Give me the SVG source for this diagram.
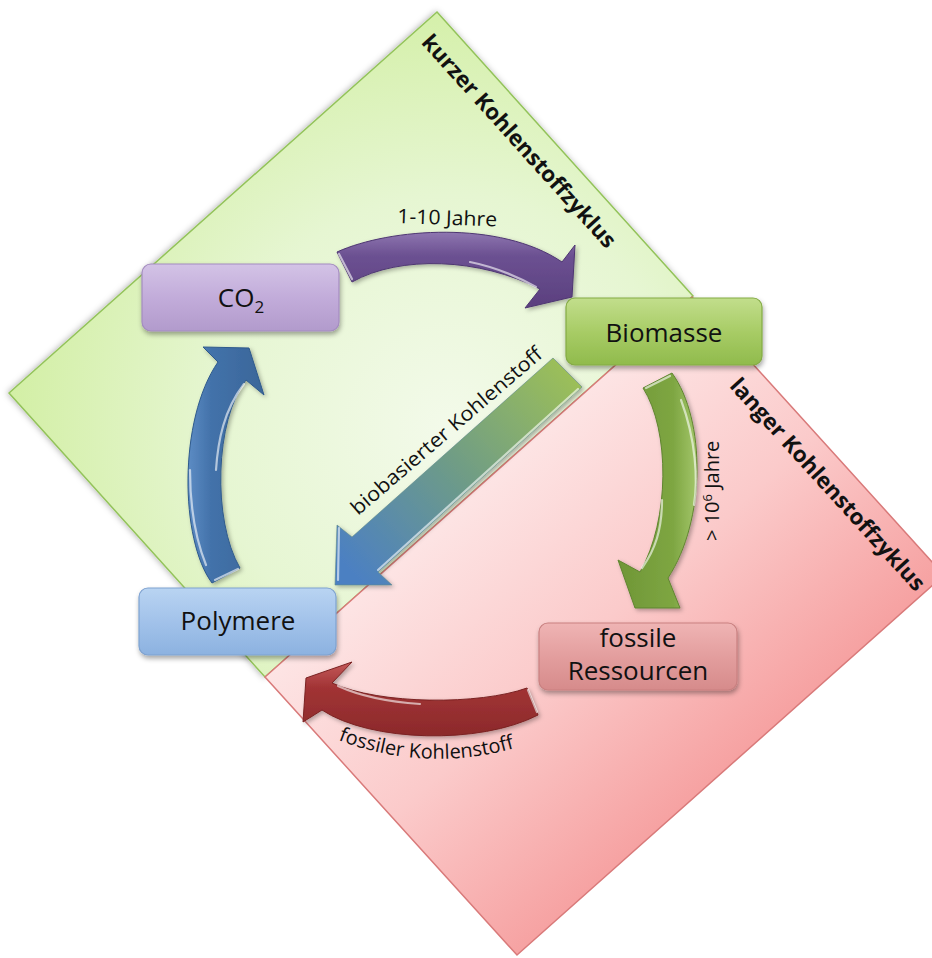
<svg xmlns="http://www.w3.org/2000/svg" width="932" height="958" viewBox="0 0 932 958">
<defs>
  <radialGradient id="gGreen" cx="450" cy="430" r="470" gradientUnits="userSpaceOnUse">
    <stop offset="0" stop-color="#f3faea"/>
    <stop offset="0.5" stop-color="#e6f6d2"/>
    <stop offset="1" stop-color="#d0ee9f"/>
  </radialGradient>
  <linearGradient id="gPink" x1="479" y1="487" x2="730" y2="765" gradientUnits="userSpaceOnUse">
    <stop offset="0" stop-color="#fde4e4"/>
    <stop offset="0.5" stop-color="#fbcaca"/>
    <stop offset="1" stop-color="#f6a2a2"/>
  </linearGradient>
  <linearGradient id="nCO2" x1="0" y1="0" x2="0" y2="1">
    <stop offset="0" stop-color="#d3c3e6"/>
    <stop offset="0.5" stop-color="#c2acda"/>
    <stop offset="1" stop-color="#b29bcc"/>
  </linearGradient>
  <linearGradient id="nBio" x1="0" y1="0" x2="0" y2="1">
    <stop offset="0" stop-color="#c2de8c"/>
    <stop offset="0.5" stop-color="#a8cc66"/>
    <stop offset="1" stop-color="#90bb4c"/>
  </linearGradient>
  <linearGradient id="nPoly" x1="0" y1="0" x2="0" y2="1">
    <stop offset="0" stop-color="#b9d4f2"/>
    <stop offset="0.5" stop-color="#a2c2ea"/>
    <stop offset="1" stop-color="#8cb2e0"/>
  </linearGradient>
  <linearGradient id="nFos" x1="0" y1="0" x2="0" y2="1">
    <stop offset="0" stop-color="#efb4b4"/>
    <stop offset="0.5" stop-color="#e39e9e"/>
    <stop offset="1" stop-color="#d68b8b"/>
  </linearGradient>
  <linearGradient id="aPurple" x1="0" y1="0" x2="0" y2="1">
    <stop offset="0" stop-color="#8e76b0"/>
    <stop offset="0.3" stop-color="#6c5192"/>
    <stop offset="1" stop-color="#5a3f7e"/>
  </linearGradient>
  <linearGradient id="aGreen" x1="1" y1="0" x2="0" y2="0">
    <stop offset="0" stop-color="#a3c66a"/>
    <stop offset="0.3" stop-color="#7ea642"/>
    <stop offset="1" stop-color="#6f9636"/>
  </linearGradient>
  <linearGradient id="aBlue" x1="0" y1="0" x2="1" y2="0">
    <stop offset="0" stop-color="#5d8cc4"/>
    <stop offset="0.3" stop-color="#4372aa"/>
    <stop offset="1" stop-color="#3a6699"/>
  </linearGradient>
  <linearGradient id="aRed" x1="0" y1="0" x2="0" y2="1">
    <stop offset="0" stop-color="#c45a5a"/>
    <stop offset="0.35" stop-color="#a13334"/>
    <stop offset="1" stop-color="#8c2a2b"/>
  </linearGradient>
  <linearGradient id="aDiag" x1="570" y1="372" x2="350" y2="570" gradientUnits="userSpaceOnUse">
    <stop offset="0" stop-color="#9cbf58"/>
    <stop offset="0.5" stop-color="#6f9c86"/>
    <stop offset="1" stop-color="#4c80c2"/>
  </linearGradient>
  <filter id="shadow" x="-10%" y="-10%" width="120%" height="130%">
    <feDropShadow dx="1" dy="3" stdDeviation="2.5" flood-color="#000" flood-opacity="0.35"/>
  </filter>
  <filter id="zoneShadow" x="-5%" y="-5%" width="110%" height="110%">
    <feDropShadow dx="-1" dy="0" stdDeviation="3" flood-color="#000" flood-opacity="0.3"/>
  </filter>
  <filter id="arrowShadow" x="-10%" y="-10%" width="130%" height="130%">
    <feDropShadow dx="2" dy="2" stdDeviation="2" flood-color="#000" flood-opacity="0.3"/>
  </filter>
</defs>
<style>
  .zoneLabel { font-family: "Open Sans", "Liberation Sans", sans-serif; font-weight: bold; font-size: 22px; fill: #111; }
  .nodeBox { stroke-width: 1.2; filter: url(#shadow); }
  .nodeText { font-family: "Open Sans", "Liberation Sans", sans-serif; font-size: 26px; fill: #111; text-anchor: middle; }
  .edgeLabel { font-family: "Open Sans", "Liberation Sans", sans-serif; font-size: 20px; fill: #111; }
  .arrow { filter: url(#arrowShadow); stroke-width: 1; }
  .hl { fill: none; stroke: #ffffff; stroke-width: 2.2; stroke-opacity: 0.6; stroke-linecap: round; }
</style>

<g id="zones">
  <polygon id="zone-short" points="437,12 693,296 265,677 9,393" fill="url(#gGreen)" stroke="#93c35a" stroke-width="1.5" filter="url(#zoneShadow)"/>
  <polygon id="zone-long" points="692,297 944,575 517,955 265,677" fill="url(#gPink)" stroke="#d97a7a" stroke-width="1.5"/>
  <text class="zoneLabel" transform="translate(420.5,43) rotate(48)" textLength="278" lengthAdjust="spacingAndGlyphs">kurzer Kohlenstoffzyklus</text>
  <text class="zoneLabel" transform="translate(728.7,386.6) rotate(47.8)" textLength="278" lengthAdjust="spacingAndGlyphs">langer Kohlenstoffzyklus</text>
</g>

<g id="connectors">
  <g id="edge-co2-biomasse">
    <path class="arrow" d="M337,252 C390,228 500,220 562,262 L575,245 L572,297 L525,308 L540,289 C480,258 400,255 352,282 Z" fill="url(#aPurple)" stroke="#4e3672"/>
    <path class="hl" d="M470,262 C500,268 520,278 536,287"/>
    <path class="hl" d="M339,254 L352,279"/>
    <text class="edgeLabel" font-size="21" transform="translate(397,223) rotate(2)" textLength="100" lengthAdjust="spacingAndGlyphs">1-10 Jahre</text>
  </g>
  <g id="edge-biomasse-fossil">
    <path class="arrow" d="M643,388 L672,373 C706,420 706,520 668,578 L680,608 L635,608 L618,560 L640,572 C670,520 670,430 643,388 Z" fill="url(#aGreen)" stroke="#5f8530"/>
    <path class="hl" d="M662,500 C662,530 655,550 642,568"/>
    <path class="hl" d="M646,388 L670,376"/>
    <path class="hl" stroke-opacity="0.35" d="M681,400 C696,440 698,480 694,505"/>
    <text class="edgeLabel" font-size="20" transform="translate(719,541) rotate(-90)">&gt; 10<tspan dy="-7" font-size="13">6</tspan><tspan dy="7"> Jahre</tspan></text>
  </g>
  <g id="edge-fossil-polymere">
    <path class="arrow" d="M527,688 C480,705 380,705 332,683 L352,662 L306,678 L303,722 L322,710 C370,742 480,745 538,715 Z" fill="url(#aRed)" stroke="#7a2222"/>
    <path class="hl" d="M338,686 C360,696 390,702 420,704"/>
    <path class="hl" d="M528,690 L537,712"/>
    <path id="fosPath" d="M338,740 Q430,775 525,745" fill="none"/>
    <text class="edgeLabel" font-size="20.5"><textPath href="#fosPath">fossiler Kohlenstoff</textPath></text>
  </g>
  <g id="edge-polymere-co2">
    <path class="arrow" d="M212,583 C180,540 178,420 218,362 L203,347 L249,348 L264,395 L246,380 C215,420 212,520 240,568 Z" fill="url(#aBlue)" stroke="#2f5a8c"/>
    <path class="hl" d="M244,384 C224,410 218,440 216,470"/>
    <path class="hl" d="M215,580 L238,569"/>
    <path class="hl" stroke-opacity="0.35" d="M190,470 C190,510 196,540 206,565"/>
  </g>
  <g id="edge-biomasse-polymere">
    <path class="arrow" d="M553,358 L582,387 L378,572 L392,585 L335,585 L337,525 L352,537 Z" fill="url(#aDiag)" stroke="#5f8a8a" stroke-opacity="0.6"/>
    <path class="hl" d="M578,389 L378,570"/>
    <path class="hl" d="M339,528 L338,580"/>
    <text class="edgeLabel" transform="translate(358,516) rotate(-40.7)" textLength="245" lengthAdjust="spacingAndGlyphs">biobasierter Kohlenstoff</text>
  </g>
</g>

<g id="node-co2">
  <rect class="nodeBox" x="142" y="264" width="197" height="67" rx="9" fill="url(#nCO2)" stroke="#a48cc0"/>
  <text class="nodeText" x="241" y="307">CO<tspan dy="6" font-size="17">2</tspan></text>
</g>
<g id="node-biomasse">
  <rect class="nodeBox" x="566" y="298" width="196" height="67" rx="9" fill="url(#nBio)" stroke="#84ab44"/>
  <text class="nodeText" x="664" y="342">Biomasse</text>
</g>
<g id="node-polymere">
  <rect class="nodeBox" x="139" y="588" width="197" height="67" rx="9" fill="url(#nPoly)" stroke="#7ea2d0"/>
  <text class="nodeText" x="238" y="630">Polymere</text>
</g>
<g id="node-fossil">
  <rect class="nodeBox" x="539" y="623" width="198" height="67" rx="9" fill="url(#nFos)" stroke="#c98080"/>
  <text class="nodeText" x="638" y="647">fossile</text>
  <text class="nodeText" x="638" y="680">Ressourcen</text>
</g>
</svg>
